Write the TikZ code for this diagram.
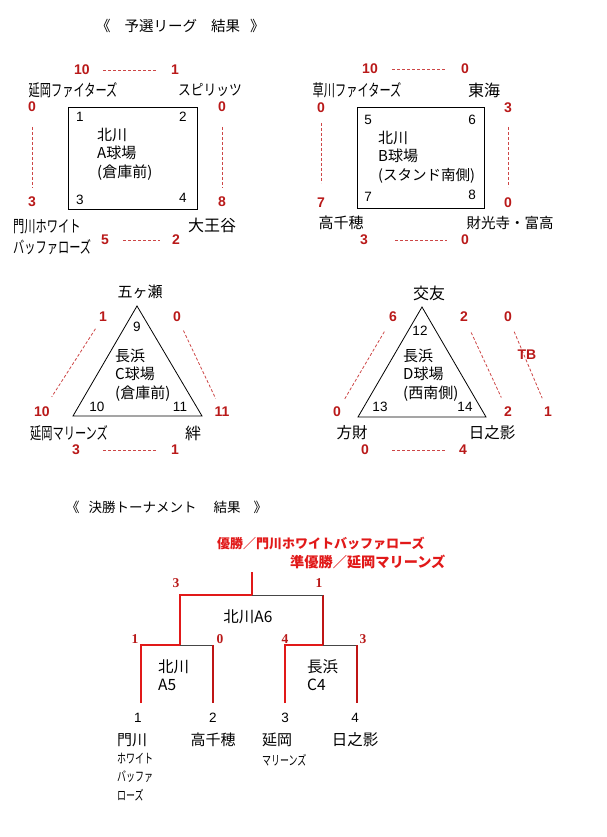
\documentclass[tikz,border=0pt]{standalone}
\usepackage{fontspec}
\setmainfont{Liberation Sans}
\newfontfamily\jp{Noto Sans CJK JP}
\newfontfamily\jpn[FakeStretch=0.68]{Noto Sans CJK JP}
\newfontfamily\jpm[FakeStretch=0.85]{Noto Sans CJK JP}
\newfontfamily\numserif{Liberation Serif}
\usetikzlibrary{positioning}
\definecolor{ScoreRed}{RGB}{185,25,25}
\definecolor{LinkRed}{RGB}{205,70,70}
\definecolor{WinRed}{RGB}{225,25,25}
\definecolor{LoseGray}{RGB}{70,70,70}

\begin{document}
\begin{tikzpicture}[x=1pt, y=-1pt]
        \tikzstyle{team} = [font=\jp\fontsize{15.5}{17}\selectfont, inner sep=0pt]
        \tikzstyle{kana} = [font=\jpn\fontsize{16.5}{21}\selectfont, inner sep=0pt, align=left]
        \tikzstyle{small} = [font=\jpn\fontsize{13.2}{18.5}\selectfont, inner sep=0pt, align=left, anchor=west]
        \tikzstyle{venue} = [font=\jp\fontsize{15}{18.5}\selectfont, inner sep=0pt, align=left, anchor=west]
        \tikzstyle{score} = [font=\bfseries\fontsize{14}{16}\selectfont, text=ScoreRed, inner sep=0pt]
        \tikzstyle{corner} = [font=\fontsize{13.5}{15}\selectfont, inner sep=0pt]
        \tikzstyle{roundscore} = [font=\numserif\bfseries\fontsize{13.5}{15}\selectfont, text=ScoreRed, inner sep=0pt]
        \tikzstyle{link} = [draw=LinkRed, line width=0.8pt, dash pattern=on 3pt off 2pt]
        \tikzstyle{court} = [draw=black, line width=0.8pt]
        \tikzstyle{win} = [draw=WinRed, line width=2.2pt]
        \tikzstyle{lose} = [draw=WinRed!85!black, line width=1.2pt]
        \tikzstyle{pass} = [draw=LoseGray, line width=0.9pt]

        \useasboundingbox (0,0) rectangle (606,837);

        % league title
        \node[team, anchor=west, font=\jp\fontsize{14.5}{17}\selectfont] (title1) at (96,26)
          {《\hspace{14pt}予選リーグ\hspace{14pt}結果\hspace{10pt}》};

        % block A
        \node[court, minimum width=129pt, minimum height=102pt, inner sep=0pt] (courtA) at (132.5,158) {};
        \foreach \n/\x/\y/\v in {cA1/80/117/1, cA2/183/117/2, cA3/80/200/3, cA4/183/198/4}
          \node[corner] (\n) at (\x,\y) {\v};
        \node[venue] (vA) at (97,154) {北川\\A球場\\(倉庫前)};
        \node[kana] (tA1) at (73,90) {延岡ファイターズ};
        \node[team, font=\jpm\fontsize{15}{17}\selectfont] (tA2) at (210,90) {スピリッツ};
        \node[kana, anchor=west] (tA3) at (13,237.5) {門川ホワイト\\バッファローズ};
        \node[team, font=\jp\fontsize{16}{18}\selectfont] (tA4) at (212,225) {大王谷};
        \foreach \n/\x/\y/\v in {sA1/82/70/10, sA2/175/70/1, sA3/32/107/0, sA4/32/202/3,
                                 sA5/222/107/0, sA6/222/202/8, sA7/105/240/5, sA8/176/240/2}
          \node[score] (\n) at (\x,\y) {\v};
        \draw[link, shorten <=21pt, shorten >=18pt] (sA1.center) -- (sA2.center);
        \draw[link, shorten <=20pt, shorten >=14pt] (sA3.center) -- (sA4.center);
        \draw[link, shorten <=20pt, shorten >=14pt] (sA5.center) -- (sA6.center);
        \draw[link, shorten <=18pt, shorten >=16pt] (sA7.center) -- (sA8.center);

        % block B
        \node[court, minimum width=127pt, minimum height=101pt, inner sep=0pt] (courtB) at (420.5,157.5) {};
        \foreach \n/\x/\y/\v in {cB1/368/120/5, cB2/472/120/6, cB3/368/197/7, cB4/472/195/8}
          \node[corner] (\n) at (\x,\y) {\v};
        \node[venue] (vB) at (378,157) {北川\\B球場\\{\fontsize{14.5}{18.5}\selectfont(スタンド南側)}};
        \node[kana] (tB1) at (357,90) {草川ファイターズ};
        \node[team, font=\jp\fontsize{16}{18}\selectfont] (tB2) at (484,90) {東海};
        \node[team, font=\jp\fontsize{15}{17}\selectfont] (tB3) at (341,223) {高千穂};
        \node[team, font=\jp\fontsize{14.5}{17}\selectfont] (tB4) at (510,223) {財光寺・富高};
        \foreach \n/\x/\y/\v in {sB1/370/69/10, sB2/465/69/0, sB3/321/108/0, sB4/321/203/7,
                                 sB5/508/108/3, sB6/508/203/0, sB7/364/240/3, sB8/465/240/0}
          \node[score] (\n) at (\x,\y) {\v};
        \draw[link, shorten <=22pt, shorten >=20pt] (sB1.center) -- (sB2.center);
        \draw[link, shorten <=15pt, shorten >=20pt] (sB3.center) -- (sB4.center);
        \draw[link, shorten <=19pt, shorten >=16pt] (sB5.center) -- (sB6.center);
        \draw[link, shorten <=31pt, shorten >=18pt] (sB7.center) -- (sB8.center);

        % block C
        \draw[court] (137,306) coordinate (pC1) -- (73,416) coordinate (pC2)
          -- (202,416) coordinate (pC3) -- cycle;
        \foreach \n/\x/\y/\v in {cC1/137/327/9, cC2/97/407/10, cC3/180/407/11}
          \node[corner] (\n) at (\x,\y) {\v};
        \node[venue] (vC) at (115,375) {長浜\\C球場\\(倉庫前)};
        \node[team, font=\jp\fontsize{15}{17}\selectfont] (tC1) at (140,292) {五ヶ瀬};
        \node[kana] (tC2) at (69,433) {延岡マリーンズ};
        \node[team, font=\jp\fontsize{16}{18}\selectfont] (tC3) at (193,433) {絆};
        \foreach \n/\x/\y/\v in {sC1/103/317/1, sC2/177/317/0, sC3/42/412/10,
                                 sC4/222/412/11, sC5/76/450/3, sC6/175/450/1}
          \node[score] (\n) at (\x,\y) {\v};
        \draw[link, shorten <=14pt, shorten >=18pt] (sC1.center) -- (sC3.center);
        \draw[link, shorten <=15pt, shorten >=15pt] (sC2.center) -- (sC4.center);
        \draw[link, shorten <=27pt, shorten >=18pt] (sC5.center) -- (sC6.center);

        % block D
        \draw[court] (422,307) coordinate (pD1) -- (358,417) coordinate (pD2)
          -- (486,417) coordinate (pD3) -- cycle;
        \foreach \n/\x/\y/\v in {cD1/420/331/12, cD2/380/407/13, cD3/465/407/14}
          \node[corner] (\n) at (\x,\y) {\v};
        \node[venue] (vD) at (403,375) {長浜\\D球場\\(西南側)};
        \node[team, font=\jp\fontsize{16}{18}\selectfont] (tD1) at (429,293) {交友};
        \node[team] (tD2) at (352,433) {方財};
        \node[team, font=\jp\fontsize{15.5}{17}\selectfont] (tD3) at (492,433) {日之影};
        \foreach \n/\x/\y/\v in {sD1/393/317/6, sD2/464/317/2, sD3/508/317/0, sD4/337/412/0,
                                 sD5/508/412/2, sD6/548/412/1, sD7/365/450/0, sD8/463/450/4}
          \node[score] (\n) at (\x,\y) {\v};
        \draw[link, shorten <=17pt, shorten >=14pt] (sD1.center) -- (sD4.center);
        \draw[link, shorten <=17pt, shorten >=16pt] (sD2.center) -- (sD5.center);
        \draw[link, shorten <=16pt, shorten >=15pt] (sD3.center) -- (sD6.center);
        \draw[link, shorten <=27pt, shorten >=18pt] (sD7.center) -- (sD8.center);
        \node[score] (tb) at (527,355) {TB};

        % tournament title and result
        \node[team, anchor=west, font=\jp\fontsize{13.5}{17}\selectfont] (title2) at (66,507)
          {《\hspace{9pt}決勝トーナメント\hspace{17pt}結果\hspace{13pt}》};
        \node[anchor=west, inner sep=0pt, text=WinRed, font=\jp\bfseries\fontsize{13}{15}\selectfont]
          (champ) at (217,543) {優勝／門川ホワイトバッファローズ};
        \node[anchor=west, inner sep=0pt, text=WinRed, font=\jp\bfseries\fontsize{14.2}{16}\selectfont]
          (runner) at (290,562) {準優勝／延岡マリーンズ};

        % bracket
        \coordinate (top) at (252,572);
        \coordinate (fin) at (252,595);
        \coordinate (finL) at (180,595);
        \coordinate (finR) at (323,595);
        \coordinate (semiL) at (180,645);
        \coordinate (semiR) at (323,645);
        \foreach \i/\x in {1/141, 2/213, 3/285, 4/357} {
          \coordinate (leg\i) at (\x,645);
          \coordinate (foot\i) at (\x,703);
        }
        \draw[win] (foot1) -- (leg1) -- (semiL) -- (finL) -- (fin) -- (top);
        \draw[pass] (semiL) -- (leg2);
        \draw[lose] (leg2) -- (foot2);
        \draw[win] (foot3) -- (leg3) -- (semiR);
        \draw[lose] (semiR) -- (finR);
        \draw[pass] (finR) -- (fin);
        \draw[pass] (semiR) -- (leg4);
        \draw[lose] (leg4) -- (foot4);

        \foreach \n/\x/\y/\v in {bS1/176/583/3, bS2/319/583/1, bS3/135/639/1,
                                 bS4/220/639/0, bS5/285/639/4, bS6/363/639/3}
          \node[roundscore] (\n) at (\x,\y) {\v};
        \node[team] (lF) at (248,617) {北川A6};
        \node[venue, font=\jp\fontsize{15.5}{18}\selectfont] (lS1) at (158,675) {北川\\A5};
        \node[venue, font=\jp\fontsize{15.5}{18}\selectfont] (lS2) at (307,675) {長浜\\C4};

        % entrants
        \foreach \n/\x/\v in {leaf1/138/1, leaf2/213/2, leaf3/285/3, leaf4/355/4}
          \node[corner] (\n) at (\x,718) {\v};
        \node[venue] (n1a) at (117,740) {門川};
        \node[small] (n1b) at (117,777) {ホワイト\\バッファ\\ローズ};
        \node[team, font=\jp\fontsize{15}{17}\selectfont] (n2) at (213,740) {高千穂};
        \node[venue] (n3a) at (262,740) {延岡};
        \node[small] (n3b) at (262,760) {マリーンズ};
        \node[team, font=\jp\fontsize{15.5}{17}\selectfont] (n4) at (355,740) {日之影};
\end{tikzpicture}
\end{document}
